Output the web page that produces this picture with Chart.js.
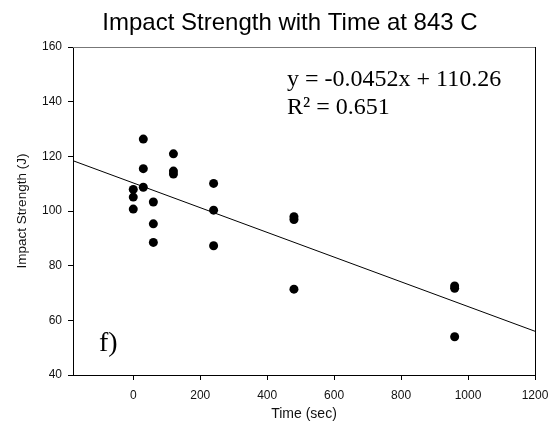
<!DOCTYPE html>
<html lang="en">
    <head>
        <meta charset="UTF-8" />
        <title>Impact Strength with Time at 843 C</title>
        <script src="https://cdn.jsdelivr.net/npm/chart.js@4.4.1/dist/chart.umd.min.js"></script>
    </head>

    <style>
        body {
            margin: 0;
            background: #fff;
        }
    </style>

    <body>
        <canvas id="myChart" width="551" height="431"></canvas>
    </body>

    <script>
        // time (sec) and impact strength (J)
        const timeValues = [0, 0, 0, 30, 30, 30, 60, 60, 60, 120, 120, 120, 240, 240, 240, 480, 480, 480, 960, 960, 960];
        const strengthValues = [107.9, 105.1, 100.7, 126.3, 115.5, 108.7, 103.3, 95.3, 88.5, 120.9, 114.6, 113.5, 110.1, 100.3, 87.3, 97.9, 96.9, 71.4, 72.6, 71.7, 54.0];

        // trend line end points
        const fitX = [-180, 1200];
        const fitY = [118.4, 56.0];

        const xTicks = [0, 200, 400, 600, 800, 1000, 1200];
        const yTicks = [40, 60, 80, 100, 120, 140, 160];

        const points = timeValues.map((t, i) => ({ x: t, y: strengthValues[i] }));
        const fitLine = fitX.map((t, i) => ({ x: t, y: fitY[i] }));

        // title, equation, frame top/right
        const extras = {
            id: "extras",
            afterDraw(chart) {
                const ctx = chart.ctx;
                const a = chart.chartArea;
                ctx.save();
                ctx.strokeStyle = "#777";
                ctx.lineWidth = 1;
                ctx.beginPath();
                ctx.moveTo(a.left, a.top + 0.5);
                ctx.lineTo(a.right, a.top + 0.5);
                ctx.stroke();
                ctx.strokeStyle = "#000";
                ctx.beginPath();
                ctx.moveTo(a.right + 0.5, a.top);
                ctx.lineTo(a.right + 0.5, a.bottom);
                ctx.stroke();

                ctx.fillStyle = "#000";
                ctx.textBaseline = "alphabetic";
                ctx.textAlign = "center";
                ctx.font = "24px 'Liberation Sans', Arial, sans-serif";
                ctx.fillText("Impact Strength with Time at 843 C", 290, 30);

                ctx.textAlign = "left";
                ctx.font = "24px 'Liberation Serif', serif";
                ctx.fillText("y = -0.0452x + 110.26", 287, 86);
                ctx.fillText("R\u00b2 = 0.651", 287, 114);

                ctx.font = "28px 'Liberation Serif', serif";
                ctx.fillText("f)", 99, 351);
                ctx.restore();
            },
        };

        const chart = new Chart("myChart", {
            data: {
                datasets: [
                    {
                        type: "scatter",
                        data: points,
                        pointRadius: 4.5,
                        pointBackgroundColor: "#000",
                        pointBorderWidth: 0,
                    },
                    {
                        type: "line",
                        data: fitLine,
                        borderColor: "#000",
                        borderWidth: 1,
                        pointRadius: 0,
                    },
                ],
            },
            options: {
                responsive: false,
                animation: false,
                layout: { padding: { top: 47, right: 16, left: 0, bottom: 0 } },
                plugins: {
                    legend: { display: false },
                    tooltip: { enabled: false },
                },
                scales: {
                    x: {
                        type: "linear",
                        min: -180,
                        max: 1200,
                        afterFit: (s) => { s.height = 56; s.paddingRight = 0; },
                        afterBuildTicks: (s) => { s.ticks = xTicks.map((v) => ({ value: v })); },
                        border: { display: true, color: "#000", width: 1 },
                        grid: { drawOnChartArea: false, drawTicks: true, tickLength: 5, color: "#000" },
                        ticks: {
                            color: "#111",
                            padding: 8,
                            maxRotation: 0,
                            callback: (v) => String(v),
                            font: { family: "'Liberation Sans', Arial", size: 12 },
                        },
                        title: {
                            display: true,
                            text: "Time (sec)",
                            color: "#111",
                            padding: { top: 0, bottom: 8 },
                            font: { family: "'Liberation Sans', Arial", size: 14 },
                        },
                    },
                    y: {
                        type: "linear",
                        min: 40,
                        max: 160,
                        afterFit: (s) => { s.width = 73; },
                        afterBuildTicks: (s) => { s.ticks = yTicks.map((v) => ({ value: v })); },
                        border: { display: true, color: "#000", width: 1 },
                        grid: { drawOnChartArea: false, drawTicks: true, tickLength: 5, color: "#000" },
                        ticks: {
                            color: "#111",
                            padding: 6,
                            callback: (v) => String(v),
                            font: { family: "'Liberation Sans', Arial", size: 12 },
                        },
                        title: {
                            display: true,
                            text: "Impact Strength (J)",
                            color: "#111",
                            padding: { top: 14, bottom: 0 },
                            font: { family: "'Liberation Sans', Arial", size: 13.5 },
                        },
                    },
                },
            },
            plugins: [extras],
        });
    </script>
</html>
